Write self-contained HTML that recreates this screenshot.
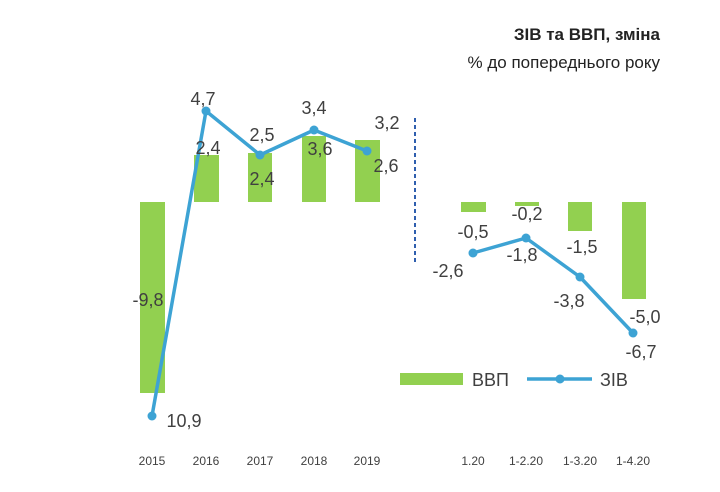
<!DOCTYPE html>
<html><head><meta charset="utf-8"><style>body{margin:0;background:#fff}</style></head><body>
<svg width="720" height="487" xmlns="http://www.w3.org/2000/svg" font-family="Liberation Sans, DejaVu Sans, sans-serif">
<rect width="720" height="487" fill="#fff"/>
<text x="660" y="40" text-anchor="end" font-size="17" font-weight="bold" fill="#222">ЗІВ та ВВП, зміна</text>
<text x="660" y="68" text-anchor="end" font-size="17" fill="#222">% до попереднього року</text>
<g fill="#92d050">
<rect x="140" y="202" width="25" height="191"/>
<rect x="194" y="155" width="25" height="47"/>
<rect x="248" y="153" width="24" height="49"/>
<rect x="302" y="136" width="24" height="66"/>
<rect x="355" y="140" width="25" height="62"/>
<rect x="461" y="202" width="25" height="10"/>
<rect x="515" y="202" width="24" height="4"/>
<rect x="568" y="202" width="24" height="29"/>
<rect x="622" y="202" width="24" height="97"/>
</g>
<line x1="415" y1="118" x2="415" y2="265" stroke="#2f5fae" stroke-width="2" stroke-dasharray="4,3"/>
<g stroke="#3da3d4" stroke-width="3.5" fill="none" stroke-linejoin="round">
<polyline points="152,416 206,111 260,155 314,130 367,151"/>
<polyline points="473,253 526,238 580,277 633,333"/>
</g>
<g fill="#3da3d4">
<circle cx="152" cy="416" r="4.5"/><circle cx="206" cy="111" r="4.5"/><circle cx="260" cy="155" r="4.5"/><circle cx="314" cy="130" r="4.5"/><circle cx="367" cy="151" r="4.5"/>
<circle cx="473" cy="253" r="4.5"/><circle cx="526" cy="238" r="4.5"/><circle cx="580" cy="277" r="4.5"/><circle cx="633" cy="333" r="4.5"/>
</g>
<g font-size="18" fill="#404040" text-anchor="middle">
<text x="148" y="306">-9,8</text>
<text x="184" y="427">10,9</text>
<text x="203" y="105">4,7</text>
<text x="208" y="154">2,4</text>
<text x="262" y="141">2,5</text>
<text x="262" y="185">2,4</text>
<text x="314" y="114">3,4</text>
<text x="320" y="155">3,6</text>
<text x="387" y="129">3,2</text>
<text x="386" y="172">2,6</text>
<text x="473" y="238">-0,5</text>
<text x="527" y="220">-0,2</text>
<text x="582" y="253">-1,5</text>
<text x="448" y="277">-2,6</text>
<text x="522" y="261">-1,8</text>
<text x="569" y="307">-3,8</text>
<text x="645" y="323">-5,0</text>
<text x="641" y="358">-6,7</text>
</g>
<rect x="400" y="373" width="63" height="12" fill="#92d050"/>
<text x="472" y="386" font-size="18" fill="#404040">ВВП</text>
<line x1="527" y1="379" x2="592" y2="379" stroke="#3da3d4" stroke-width="3.5"/>
<circle cx="560" cy="379" r="4.5" fill="#3da3d4"/>
<text x="600" y="386" font-size="18" fill="#404040">ЗІВ</text>
<g font-size="12" fill="#404040" text-anchor="middle">
<text x="152" y="465">2015</text><text x="206" y="465">2016</text><text x="260" y="465">2017</text><text x="314" y="465">2018</text><text x="367" y="465">2019</text>
<text x="473" y="465">1.20</text><text x="526" y="465">1-2.20</text><text x="580" y="465">1-3.20</text><text x="633" y="465">1-4.20</text>
</g>
</svg>
</body></html>
